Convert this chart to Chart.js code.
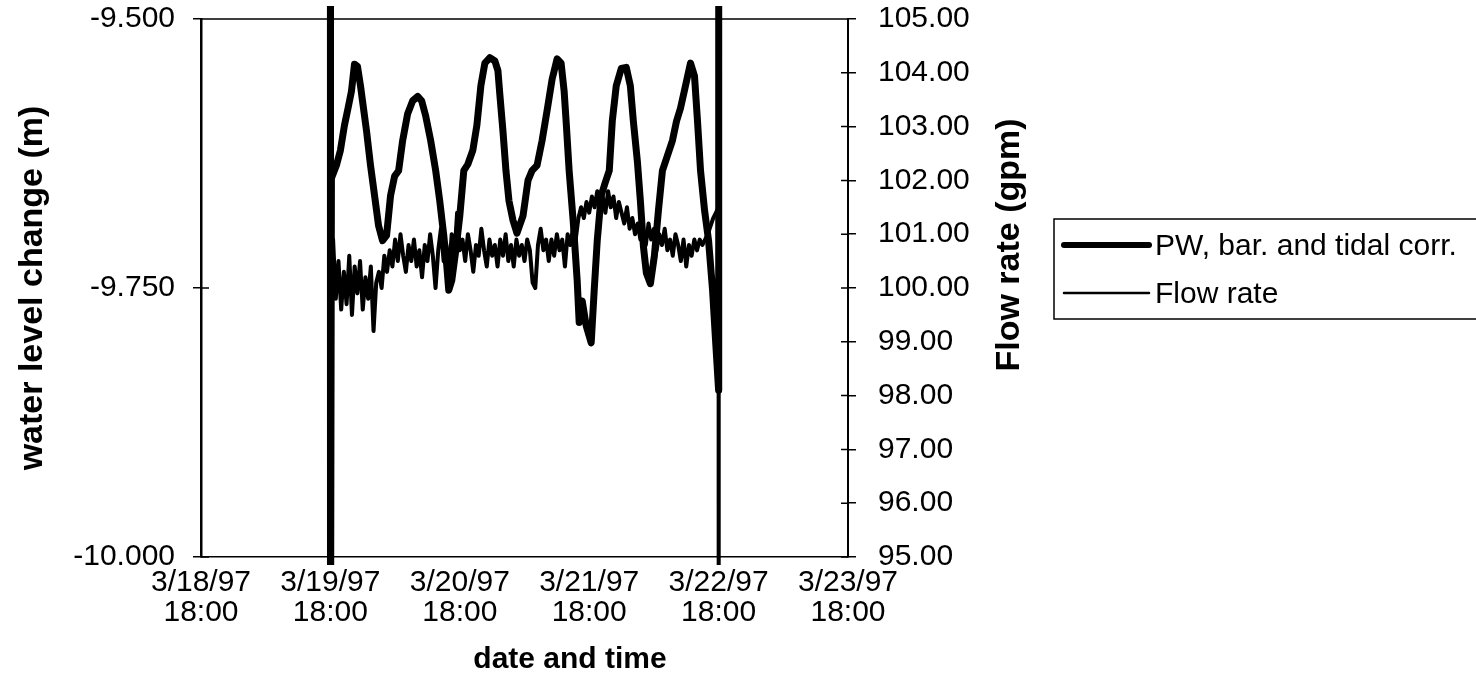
<!DOCTYPE html>
<html><head><meta charset="utf-8">
<script src="https://cdn.jsdelivr.net/npm/chart.js@4.4.0/dist/chart.umd.min.js"></script>
<style>html,body{margin:0;padding:0;background:#fff;}#wrap{width:1476px;height:682px;}</style>
</head><body><div id="wrap"><canvas id="c" width="1476" height="682"></canvas></div>
<script>
// x axis tick labels (hours after 3/18/97 18:00, one tick per day)
const dateLabels = ["3/18/97", "3/19/97", "3/20/97", "3/21/97", "3/22/97", "3/23/97"];
const timeLabel = "18:00";
const xTitle = "date and time";
const leftTitle = "water level change (m)";
const rightTitle = "Flow rate (gpm)";
const pwLabel = "PW, bar. and tidal corr.";
const flowLabel = "Flow rate";

// PW water level (m), hours after 3/18/97 18:00
const pwHours = [24.0, 24.02, 24.19, 25.12, 25.86, 26.60, 27.35, 27.91, 28.47, 29.02, 29.58, 29.95,
  30.70, 31.44, 32.19, 32.93, 33.67, 34.42, 35.16, 35.91, 36.65, 37.40, 38.33, 39.26, 40.19, 40.93,
  41.67, 42.60, 43.53, 44.28, 45.02, 45.58, 45.95, 46.51, 47.26, 48.00, 48.74, 49.49, 50.42, 51.16,
  51.91, 52.65, 53.58, 54.51, 55.07, 55.44, 56.00, 56.56, 57.12, 57.86, 58.60, 59.72, 60.65, 61.40,
  62.33, 63.26, 64.19, 65.12, 66.05, 66.79, 67.35, 67.72, 68.28, 69.02, 69.77, 70.14, 70.70, 71.44,
  72.37, 72.93, 73.49, 74.23, 74.98, 75.72, 76.28, 77.02, 77.95, 78.88, 79.63, 80.19, 80.93, 81.49,
  82.05, 82.60, 83.35, 84.09, 84.84, 85.58, 86.51, 87.44, 88.19, 88.93, 89.86, 90.79, 91.53, 92.09,
  92.65, 93.40, 94.14, 94.88, 95.44, 96.00, 96.02];
const pwLevel = [-9.300, -10.100, -9.648, -9.636, -9.622, -9.599, -9.581, -9.567, -9.542, -9.544, -9.562, -9.576,
  -9.604, -9.636, -9.664, -9.692, -9.706, -9.701, -9.664, -9.646, -9.641, -9.613, -9.588, -9.576, -9.572, -9.576,
  -9.590, -9.613, -9.641, -9.669, -9.701, -9.729, -9.752, -9.743, -9.715, -9.683, -9.641, -9.635, -9.622, -9.599,
  -9.562, -9.541, -9.536, -9.539, -9.548, -9.571, -9.604, -9.641, -9.669, -9.687, -9.699, -9.683, -9.650, -9.641,
  -9.636, -9.613, -9.585, -9.556, -9.537, -9.541, -9.567, -9.595, -9.641, -9.687, -9.743, -9.782, -9.762, -9.785,
  -9.801, -9.752, -9.706, -9.664, -9.652, -9.641, -9.595, -9.562, -9.546, -9.545, -9.562, -9.595, -9.632, -9.669,
  -9.711, -9.736, -9.746, -9.720, -9.678, -9.641, -9.627, -9.613, -9.595, -9.583, -9.562, -9.541, -9.553, -9.595,
  -9.641, -9.678, -9.706, -9.752, -9.799, -9.845, -9.300];

// Flow rate (gpm), hours after 3/18/97 18:00
const flowHours = [24.0, 24.2, 24.5, 25.0, 25.5, 26.0, 26.5, 27.0, 27.5, 28.0, 28.5, 29.0, 29.5, 30.0,
  30.5, 31.0, 31.5, 32.0, 32.5, 33.0, 33.5, 34.0, 34.5, 35.0, 35.5, 36.0, 36.5, 37.0, 37.5, 38.0,
  38.5, 39.0, 39.5, 40.0, 40.5, 41.0, 41.5, 42.0, 42.5, 43.0, 43.5, 44.0, 44.5, 45.0, 45.5, 46.0,
  46.5, 47.0, 47.5, 48.0, 48.5, 49.0, 49.5, 50.0, 50.5, 51.0, 51.5, 52.0, 52.5, 53.0, 53.5, 54.0,
  54.5, 55.0, 55.5, 56.0, 56.5, 57.0, 57.5, 58.0, 58.5, 59.0, 59.5, 60.0, 60.5, 61.0, 61.5, 62.0,
  62.5, 63.0, 63.5, 64.0, 64.5, 65.0, 65.5, 66.0, 66.5, 67.0, 67.5, 68.0, 68.5, 69.0, 69.5, 70.0,
  70.5, 71.0, 71.5, 72.0, 72.5, 73.0, 73.5, 74.0, 74.5, 75.0, 75.5, 76.0, 76.5, 77.0, 77.5, 78.0,
  78.5, 79.0, 79.5, 80.0, 80.5, 81.0, 81.5, 82.0, 82.5, 83.0, 83.5, 84.0, 84.5, 85.0, 85.5, 86.0,
  86.5, 87.0, 87.5, 88.0, 88.5, 89.0, 89.5, 90.0, 90.5, 91.0, 91.5, 92.0, 92.5, 93.0, 94.0, 95.0,
  96.0, 96.02];
const flowRate = [90.0, 100.2, 100.9, 99.8, 100.5, 99.6, 100.3, 99.7, 100.6, 99.5, 100.4, 99.9, 100.5, 99.6,
  100.2, 99.8, 100.4, 99.2, 100.1, 100.3, 100.0, 100.6, 100.3, 100.7, 100.4, 100.9, 100.5, 101.0, 100.6, 100.3,
  100.8, 100.5, 100.9, 100.4, 100.7, 100.2, 100.8, 100.5, 101.0, 100.6, 100.0, 100.7, 101.1, 100.5, 100.8, 100.3,
  101.0, 100.6, 101.4, 100.7, 100.9, 100.5, 101.0, 100.7, 100.3, 100.8, 100.6, 101.1, 100.7, 100.4, 100.9, 100.6,
  100.8, 100.4, 100.9, 100.6, 101.0, 100.5, 100.8, 100.4, 100.9, 100.6, 100.8, 100.5, 100.9, 100.7, 100.1, 100.0,
  100.8, 101.1, 100.7, 100.9, 100.5, 100.9, 100.6, 101.0, 100.7, 100.9, 100.4, 101.0, 100.8, 101.1, 100.9, 101.3,
  101.5, 101.3, 101.6, 101.4, 101.7, 101.5, 101.8, 101.5, 101.7, 101.4, 101.8, 101.5, 101.7, 101.3, 101.6, 101.4,
  101.2, 101.5, 101.1, 101.3, 101.0, 101.2, 100.9, 101.1, 100.8, 101.2, 100.9, 101.1, 100.7, 101.0, 100.8, 101.1,
  100.7, 100.9, 100.6, 101.0, 100.8, 100.5, 100.9, 100.4, 100.8, 100.6, 100.9, 100.7, 100.9, 100.8, 101.0, 101.3,
  101.5, 90.0];

const FONT = "'Liberation Sans', Arial, Helvetica, sans-serif";
Chart.defaults.font.family = FONT;
Chart.defaults.color = '#000';

const frameAndTicks = {
  id: 'frameAndTicks',
  afterDraw(chart) {
    const ctx = chart.ctx, a = chart.chartArea;
    ctx.save();
    ctx.strokeStyle = '#000';
    ctx.lineWidth = 1.5;
    ctx.beginPath();
    ctx.moveTo(a.left, a.top); ctx.lineTo(a.right, a.top);
    const ys = chart.scales.y, y2 = chart.scales.y2;
    ys.ticks.forEach(t => { const p = ys.getPixelForValue(t.value); ctx.moveTo(a.left, p); ctx.lineTo(a.left + 8, p); });
    y2.ticks.forEach(t => { const p = y2.getPixelForValue(t.value); ctx.moveTo(a.right, p); ctx.lineTo(a.right - 7, p); });
    ctx.stroke();
    ctx.restore();
  }
};

const boxLegend = {
  id: 'boxLegend',
  afterDraw(chart) {
    const ctx = chart.ctx;
    ctx.save();
    ctx.strokeStyle = '#000';
    ctx.fillStyle = '#000';
    ctx.lineWidth = 1.5;
    ctx.strokeRect(1054, 219, 440, 100);
    ctx.font = '30px ' + FONT;
    ctx.textBaseline = 'middle';
    const rows = [245, 293];
    chart.data.datasets.forEach((ds, i) => {
      ctx.lineWidth = i === 0 ? 6 : 2.5;
      ctx.lineCap = 'round';
      ctx.beginPath();
      ctx.moveTo(1064, rows[i]); ctx.lineTo(1149, rows[i]);
      ctx.stroke();
      ctx.fillText(ds.label, 1155, rows[i] + 2);
    });
    // x axis title
    ctx.textAlign = 'center';
    ctx.font = 'bold 30px ' + FONT;
    ctx.fillText(xTitle, 570, 660);
    // right axis title (reads bottom-to-top)
    ctx.translate(1010, 245);
    ctx.rotate(-Math.PI / 2);
    ctx.font = 'bold 34px ' + FONT;
    ctx.fillText(rightTitle, 0, 0);
    ctx.restore();
  }
};

const clipArea = {left: 0, top: 13, right: 0, bottom: 8};
const noVPad = s => { s.paddingTop = 0; s.paddingBottom = 0; };

new Chart(document.getElementById('c'), {
  type: 'line',
  data: {
    datasets: [
      {label: pwLabel, yAxisID: 'y', data: pwHours.map((h, i) => ({x: h, y: pwLevel[i]})),
       borderColor: '#000', borderWidth: 7, pointRadius: 0, tension: 0, borderJoinStyle: 'round', borderCapStyle: 'round', clip: clipArea},
      {label: flowLabel, yAxisID: 'y2', data: flowHours.map((h, i) => ({x: h, y: flowRate[i]})),
       borderColor: '#000', borderWidth: 4, pointRadius: 0, tension: 0, borderJoinStyle: 'round', clip: clipArea}
    ]
  },
  options: {
    responsive: false,
    animation: false,
    devicePixelRatio: 1,
    layout: {padding: {left: 0, top: 19, right: 468, bottom: 0}},
    plugins: {legend: {display: false}, tooltip: {enabled: false}},
    scales: {
      x: {
        type: 'linear', position: 'bottom', min: 0, max: 120,
        ticks: {stepSize: 24, autoSkip: false, maxRotation: 0, padding: 11, color: '#000',
          font: {size: 30, lineHeight: 1.0},
          callback: v => [dateLabels[Math.round(v / 24)], timeLabel]},
        grid: {display: false, drawTicks: false},
        border: {display: true, color: '#000', width: 1.5},
        title: {display: false},
        afterFit: s => { s.height = 125; }
      },
      y: {
        position: 'left', min: -10, max: -9.5,
        ticks: {stepSize: 0.25, padding: 18, color: '#000', font: {size: 30}, callback: v => v.toFixed(3)},
        grid: {drawOnChartArea: false, tickLength: 8, color: '#000', lineWidth: 1.5},
        border: {display: true, color: '#000', width: 2.5},
        title: {display: true, text: leftTitle, color: '#000', font: {size: 34, weight: 'bold'}, padding: {top: 12, bottom: 0}},
        afterFit: s => { s.width = 201; noVPad(s); }
      },
      y2: {
        position: 'right', min: 95, max: 105,
        ticks: {stepSize: 1, padding: 22, color: '#000', font: {size: 30}, callback: v => v.toFixed(2)},
        grid: {drawOnChartArea: false, tickLength: 8, color: '#000', lineWidth: 1.5},
        border: {display: true, color: '#000', width: 2},
        afterFit: s => { s.width = 160; noVPad(s); }
      }
    }
  },
  plugins: [frameAndTicks, boxLegend]
});
</script></body></html>
